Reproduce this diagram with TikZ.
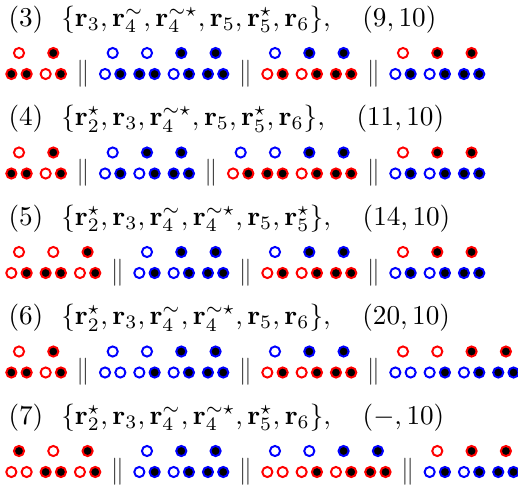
\documentclass[tikz,border=0pt]{standalone}
\usepackage{amsmath,amssymb}
\usepackage{tikz}
\usetikzlibrary{positioning}
\definecolor{beadred}{HTML}{FF0000}
\definecolor{beadblue}{HTML}{0000FF}
\definecolor{bargray}{HTML}{3A3A3A}
\colorlet{o}{white}
\colorlet{x}{black}

\tikzset{
  bead/.style 2 args={circle,draw=#1,fill=#2,line width=0.75pt,inner sep=0pt,minimum size=3.85pt},
  bar/.style={inner sep=0pt,text=bargray,scale=1.03},
  cfg/.style={anchor=base west,inner sep=0pt,scale=1.033},
}

\newcommand{\beadgroup}[5]{%
  \foreach \tb/\lb/\rb [count=\i from 0] in {#5}{
    \node[bead={#3}{\tb}] at ({#1+34.3*\i},#2) {};
    \node[bead={#4}{\lb}] at ({#1+34.3*\i-7.65},{#2+21}) {};
    \node[bead={#4}{\rb}] at ({#1+34.3*\i+7.65},{#2+21}) {};
  }}
\newcommand{\bars}[2]{\node[bar] at (#1,{#2+20.5}) {$\|$};}
\newcommand{\rr}{\mathbf r}

\begin{document}
\begin{tikzpicture}[x=0.38pt,y=-0.38pt]
  \useasboundingbox (0,0) rectangle (518,484);

  \node[cfg] (cfg3) at (8,26) {(3)\ \ $\{\rr_3,\rr^{\sim}_4,\rr^{\sim\star}_4,\rr_5,\rr^{\star}_5,\rr_6\},\quad(9,10)$};
  \beadgroup{19}{53}{beadred}{beadred}{o/x/x, x/o/x}
  \bars{83}{53}
  \beadgroup{112.7}{53}{beadblue}{beadblue}{o/o/x, o/x/x, x/o/x, x/x/x}
  \bars{245.3}{53}
  \beadgroup{275}{53}{beadblue}{beadred}{o/o/x, x/o/x, x/x/x}
  \bars{373.3}{53}
  \beadgroup{403}{53}{beadred}{beadblue}{o/o/x, x/o/x, x/x/x}

  \node[cfg] (cfg4) at (8,125.5) {(4)\ \ $\{\rr^{\star}_2,\rr_3,\rr^{\sim\star}_4,\rr_5,\rr^{\star}_5,\rr_6\},\quad(11,10)$};
  \beadgroup{19}{152.5}{beadred}{beadred}{o/x/x, x/o/x}
  \bars{83}{152.5}
  \beadgroup{112.7}{152.5}{beadblue}{beadblue}{o/o/x, x/o/x, x/x/x}
  \bars{211}{152.5}
  \beadgroup{240.7}{152.5}{beadblue}{beadred}{o/o/x, o/x/x, x/o/x, x/x/x}
  \bars{373.3}{152.5}
  \beadgroup{403}{152.5}{beadred}{beadblue}{o/o/x, x/o/x, x/x/x}

  \node[cfg] (cfg5) at (8,225) {(5)\ \ $\{\rr^{\star}_2,\rr_3,\rr^{\sim}_4,\rr^{\sim\star}_4,\rr_5,\rr^{\star}_5\},\quad(14,10)$};
  \beadgroup{19}{252}{beadred}{beadred}{o/o/x, o/x/x, x/o/x}
  \bars{117.3}{252}
  \beadgroup{147}{252}{beadblue}{beadblue}{o/o/x, x/o/x, x/x/x}
  \bars{245.3}{252}
  \beadgroup{275}{252}{beadblue}{beadred}{o/o/x, x/o/x, x/x/x}
  \bars{373.3}{252}
  \beadgroup{403}{252}{beadred}{beadblue}{o/o/x, x/o/x, x/x/x}

  \node[cfg] (cfg6) at (8,324.5) {(6)\ \ $\{\rr^{\star}_2,\rr_3,\rr^{\sim}_4,\rr^{\sim\star}_4,\rr_5,\rr_6\},\quad(20,10)$};
  \beadgroup{19}{351.5}{beadred}{beadred}{o/x/x, x/o/x}
  \bars{83}{351.5}
  \beadgroup{112.7}{351.5}{beadblue}{beadblue}{o/o/o, o/o/x, x/o/x, x/x/x}
  \bars{245.3}{351.5}
  \beadgroup{275}{351.5}{beadblue}{beadred}{o/o/x, x/o/x, x/x/x}
  \bars{373.3}{351.5}
  \beadgroup{403}{351.5}{beadred}{beadblue}{o/o/o, o/o/x, x/o/x, x/x/x}

  \node[cfg] (cfg7) at (8,424) {(7)\ \ $\{\rr^{\star}_2,\rr_3,\rr^{\sim}_4,\rr^{\sim\star}_4,\rr^{\star}_5,\rr_6\},\quad(-,10)$};
  \beadgroup{19}{451}{beadred}{beadred}{x/o/o, o/x/x, x/o/x}
  \bars{117.3}{451}
  \beadgroup{147}{451}{beadblue}{beadblue}{o/o/x, x/o/x, x/x/x}
  \bars{245.3}{451}
  \beadgroup{275}{451}{beadblue}{beadred}{o/o/o, o/o/x, x/o/x, x/x/x}
  \bars{407.6}{451}
  \beadgroup{437.3}{451}{beadred}{beadblue}{o/o/x, x/o/x, x/x/x}
\end{tikzpicture}
\end{document}
